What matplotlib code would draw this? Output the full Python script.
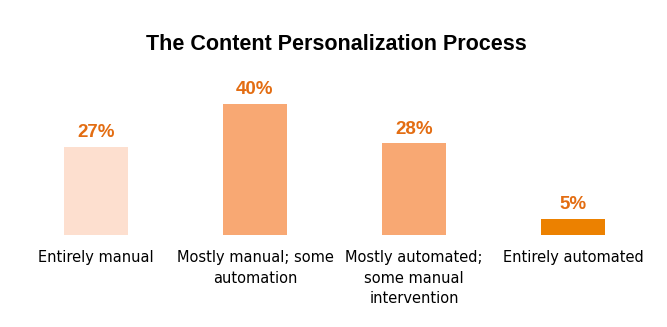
import matplotlib
matplotlib.use("Agg")
import matplotlib.pyplot as plt

# data
categories = ["Entirely manual", "Mostly manual; some\nautomation",
              "Mostly automated;\nsome manual\nintervention", "Entirely automated"]
values = [27, 40, 28, 5]
bar_colors = ["#FDDFCF", "#F8A873", "#F8A873", "#EC8100"]
label_color = "#E36D12"

fig = plt.figure(figsize=(6.67, 3.27), dpi=100)
ax = fig.add_axes([16.5 / 667, 92 / 327, 636 / 667, 163.75 / 327])

x = list(range(len(values)))
ax.bar(x, values, width=0.40, color=bar_colors)

for xi, v in zip(x, values):
    ax.annotate(f"{v}%", (xi, v), xytext=(0, 7), textcoords="offset points",
                ha="center", va="baseline", fontsize=13.5, fontweight="bold",
                color=label_color, family="Liberation Sans")

ax.set_xlim(-0.5, 3.5)
ax.set_ylim(0, 50)
ax.set_xticks(x)
ax.set_xticklabels(categories, fontsize=10.5, family="DejaVu Sans",
                   linespacing=1.45, va="top")
ax.tick_params(axis="x", length=0, pad=11)
ax.set_yticks([])
for s in ax.spines.values():
    s.set_visible(False)

fig.text(0.505, 1 - 44 / 327, "The Content Personalization Process",
         ha="center", va="center", fontsize=15.5, fontweight="bold",
         family="Liberation Sans")

fig.savefig("out.png", dpi=100)
